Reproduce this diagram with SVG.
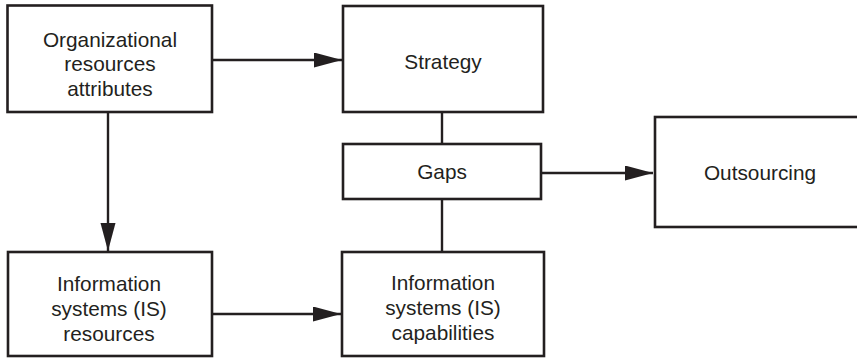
<svg xmlns="http://www.w3.org/2000/svg" width="857" height="358" viewBox="0 0 857 358">
<style>
.box{fill:#fff;stroke:#231f20;stroke-width:2.6}
.t{font-family:"Liberation Sans",Arial,sans-serif;font-size:20.8px;fill:#231f20;text-anchor:middle}
.c{stroke:#231f20;stroke-width:2.4;fill:none}
</style>
<defs>
<marker id="ah" markerUnits="userSpaceOnUse" markerWidth="30" markerHeight="16" refX="28" refY="7.5" orient="auto">
<path d="M0,0 L28,7.5 L0,15 z" fill="#231f20"/>
</marker>
</defs>
<rect width="857" height="358" fill="#fff"/>
<g id="connectors">
<line class="c" x1="212" y1="60" x2="342" y2="60" marker-end="url(#ah)"/>
<line class="c" x1="108" y1="112" x2="108" y2="251" marker-end="url(#ah)"/>
<line class="c" x1="212" y1="314" x2="341" y2="314" marker-end="url(#ah)"/>
<line class="c" x1="541" y1="173" x2="653" y2="173" marker-end="url(#ah)"/>
<line class="c" x1="442" y1="112" x2="442" y2="144"/>
<line class="c" x1="442" y1="199" x2="442" y2="252"/>
</g>
<g id="org">
<rect class="box" x="7.5" y="5.5" width="204.5" height="106.5"/>
<text class="t" x="110" y="46.5">Organizational</text>
<text class="t" x="110" y="71">resources</text>
<text class="t" x="110" y="95.5">attributes</text>
</g>
<g id="strategy">
<rect class="box" x="343" y="6" width="200" height="106"/>
<text class="t" x="443" y="69">Strategy</text>
</g>
<g id="gaps">
<rect class="box" x="343" y="144" width="198" height="55"/>
<text class="t" x="442" y="178.5">Gaps</text>
</g>
<g id="outsourcing">
<rect class="box" x="655" y="117" width="210" height="110"/>
<text class="t" x="760" y="180">Outsourcing</text>
</g>
<g id="isres">
<rect class="box" x="8" y="252" width="204" height="104"/>
<text class="t" x="109" y="291">Information</text>
<text class="t" x="109" y="316">systems (IS)</text>
<text class="t" x="109" y="341">resources</text>
</g>
<g id="iscap">
<rect class="box" x="342" y="252" width="202" height="104"/>
<text class="t" x="443" y="290">Information</text>
<text class="t" x="443" y="315">systems (IS)</text>
<text class="t" x="443" y="340">capabilities</text>
</g>
</svg>
